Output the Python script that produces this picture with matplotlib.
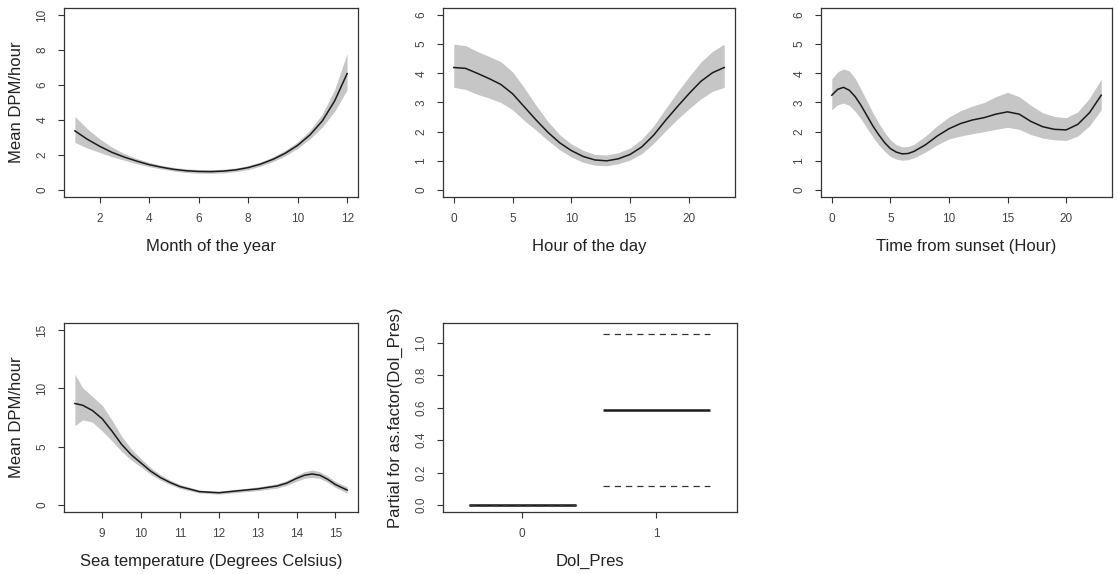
import matplotlib
matplotlib.use("Agg")
import matplotlib.pyplot as plt
import numpy as np

plt.rcParams['font.family'] = ['Liberation Sans', 'DejaVu Sans']

# ---- Panel 1: Month of the year ----
month = [1, 1.5, 2, 2.5, 3, 3.5, 4, 4.5, 5, 5.5, 6, 6.5, 7, 7.5, 8, 8.5, 9, 9.5, 10, 10.5, 11, 11.5, 12]
month_fit = [3.38, 2.9, 2.5, 2.15, 1.88, 1.65, 1.45, 1.3, 1.18, 1.1, 1.06, 1.05, 1.08, 1.15, 1.28, 1.48, 1.75, 2.1, 2.55, 3.15, 3.95, 5.1, 6.65]
month_lo = [2.72, 2.4, 2.15, 1.9, 1.7, 1.5, 1.33, 1.2, 1.08, 1.0, 0.96, 0.95, 0.98, 1.05, 1.17, 1.36, 1.62, 1.95, 2.38, 2.92, 3.6, 4.5, 5.72]
month_hi = [4.2, 3.5, 2.92, 2.45, 2.08, 1.8, 1.58, 1.41, 1.29, 1.21, 1.17, 1.16, 1.19, 1.26, 1.39, 1.6, 1.89, 2.27, 2.75, 3.4, 4.35, 5.75, 7.8]

# ---- Panel 2: Hour of the day ----
hour = list(range(24))
hour_fit = [4.20, 4.17, 4.00, 3.82, 3.62, 3.30, 2.85, 2.40, 1.98, 1.62, 1.35, 1.15, 1.03, 1.00, 1.07, 1.22, 1.48, 1.88, 2.38, 2.85, 3.30, 3.72, 4.02, 4.20]
hour_lo = [3.52, 3.45, 3.28, 3.15, 3.00, 2.75, 2.38, 2.05, 1.70, 1.38, 1.13, 0.95, 0.85, 0.83, 0.90, 1.03, 1.25, 1.60, 2.02, 2.42, 2.78, 3.12, 3.38, 3.52]
hour_hi = [5.00, 4.95, 4.75, 4.58, 4.40, 4.05, 3.50, 2.90, 2.35, 1.90, 1.58, 1.36, 1.22, 1.20, 1.28, 1.44, 1.75, 2.20, 2.78, 3.35, 3.88, 4.38, 4.75, 5.00]

# ---- Panel 3: Time from sunset ----
sunset = [0, 0.5, 1, 1.5, 2, 2.5, 3, 3.5, 4, 4.5, 5, 5.5, 6, 6.5, 7, 8, 9, 10, 11, 12, 13, 14, 15, 16, 17, 18, 19, 20, 21, 22, 23]
sunset_fit = [3.25, 3.45, 3.52, 3.42, 3.20, 2.90, 2.55, 2.20, 1.90, 1.63, 1.42, 1.30, 1.24, 1.25, 1.32, 1.55, 1.85, 2.10, 2.28, 2.40, 2.48, 2.60, 2.68, 2.60, 2.35, 2.17, 2.08, 2.06, 2.25, 2.65, 3.25]
sunset_lo = [2.75, 2.92, 2.98, 2.90, 2.70, 2.43, 2.12, 1.82, 1.55, 1.33, 1.15, 1.06, 1.02, 1.04, 1.10, 1.30, 1.55, 1.75, 1.85, 1.93, 2.00, 2.08, 2.15, 2.08, 1.90, 1.78, 1.72, 1.70, 1.85, 2.20, 2.75]
sunset_hi = [3.80, 4.05, 4.15, 4.08, 3.82, 3.45, 3.05, 2.65, 2.30, 1.98, 1.72, 1.56, 1.48, 1.49, 1.56, 1.85, 2.20, 2.50, 2.72, 2.88, 3.00, 3.20, 3.35, 3.20, 2.90, 2.65, 2.52, 2.48, 2.68, 3.15, 3.80]

# ---- Panel 4: Sea temperature ----
temp = [8.3, 8.5, 8.75, 9.0, 9.25, 9.5, 9.75, 10.0, 10.25, 10.5, 10.75, 11.0, 11.5, 12.0, 12.5, 13.0, 13.5, 13.75, 14.0, 14.2, 14.4, 14.6, 14.8, 15.0, 15.3]
temp_fit = [8.70, 8.55, 8.10, 7.40, 6.35, 5.20, 4.30, 3.60, 2.90, 2.35, 1.93, 1.58, 1.15, 1.05, 1.22, 1.38, 1.63, 1.88, 2.28, 2.55, 2.66, 2.55, 2.20, 1.75, 1.28]
temp_lo = [6.80, 7.30, 7.10, 6.35, 5.50, 4.60, 3.85, 3.25, 2.62, 2.13, 1.75, 1.42, 1.03, 0.93, 1.08, 1.23, 1.45, 1.68, 2.04, 2.28, 2.36, 2.28, 1.95, 1.50, 1.02]
temp_hi = [11.20, 10.05, 9.30, 8.55, 7.30, 5.90, 4.80, 3.98, 3.20, 2.60, 2.13, 1.76, 1.28, 1.18, 1.36, 1.55, 1.82, 2.10, 2.55, 2.85, 3.00, 2.85, 2.48, 2.02, 1.56]

# ---- Panel 5: factor Dol_Pres ----
dol_levels = [0, 1]
dol_est = [0.0, 0.585]
dol_lo = [0.0, 0.115]
dol_hi = [0.0, 1.055]

W, H = 1118, 574
fig = plt.figure(figsize=(W / 100, H / 100), dpi=100)

BAND = '#c6c6c6'
LINE = '#1a1a1a'
BOX = '#333333'
TICKC = '#444444'


def make_ax(left, top, right, bottom):
    ax = fig.add_axes([left / W, 1 - bottom / H, (right - left) / W, (bottom - top) / H])
    for s in ax.spines.values():
        s.set_color(BOX)
        s.set_linewidth(0.9)
    ax.tick_params(direction='out', length=4.2, width=0.8, color=BOX,
                   labelsize=8.5, labelcolor=TICKC, pad=7)
    return ax


def finish(ax, xlabel, ylabel=None, yticks=None, yfmt=None):
    ax.set_xlabel(xlabel, fontsize=12, color='#222222', labelpad=10.5)
    if ylabel:
        ax.set_ylabel(ylabel, fontsize=12, color='#222222', labelpad=9)
    if yticks is not None:
        ax.set_yticks(yticks)
        labels = [yfmt.format(v) if yfmt else str(v) for v in yticks]
        ax.set_yticklabels(labels, rotation=90, va='center')


def smooth_panel(ax, x, fit, lo, hi):
    ax.fill_between(x, lo, hi, color=BAND, linewidth=0)
    ax.plot(x, fit, color=LINE, linewidth=1.1)


# Panel 1
ax1 = make_ax(64, 8, 358, 197)
smooth_panel(ax1, month, month_fit, month_lo, month_hi)
ax1.set_xlim(0.56, 12.44)
ax1.set_ylim(-0.4, 10.4)
ax1.set_xticks([2, 4, 6, 8, 10, 12])
finish(ax1, 'Month of the year', 'Mean DPM/hour', [0, 2, 4, 6, 8, 10])

# Panel 2
ax2 = make_ax(443, 8, 735, 197)
smooth_panel(ax2, hour, hour_fit, hour_lo, hour_hi)
ax2.set_xlim(-0.92, 23.92)
ax2.set_ylim(-0.24, 6.24)
ax2.set_xticks([0, 5, 10, 15, 20])
finish(ax2, 'Hour of the day', None, [0, 1, 2, 3, 4, 5, 6])

# Panel 3
ax3 = make_ax(821, 8, 1112, 197)
smooth_panel(ax3, sunset, sunset_fit, sunset_lo, sunset_hi)
ax3.set_xlim(-0.92, 23.92)
ax3.set_ylim(-0.24, 6.24)
ax3.set_xticks([0, 5, 10, 15, 20])
finish(ax3, 'Time from sunset (Hour)', None, [0, 1, 2, 3, 4, 5, 6])

# Panel 4
ax4 = make_ax(64, 323, 358, 512)
smooth_panel(ax4, temp, temp_fit, temp_lo, temp_hi)
ax4.set_xlim(8.02, 15.58)
ax4.set_ylim(-0.6, 15.6)
ax4.set_xticks([9, 10, 11, 12, 13, 14, 15])
finish(ax4, 'Sea temperature (Degrees Celsius)', 'Mean DPM/hour', [0, 5, 10, 15])

# Panel 5
ax5 = make_ax(443, 323, 737, 512)
for lev, est, lo, hi in zip(dol_levels, dol_est, dol_lo, dol_hi):
    ax5.plot([lev - 0.4, lev + 0.4], [est, est], color=LINE, linewidth=1.8, solid_capstyle='butt')
    ax5.plot([lev - 0.4, lev + 0.4], [lo, lo], color='#333333', linewidth=0.9, dashes=(5, 4))
    ax5.plot([lev - 0.4, lev + 0.4], [hi, hi], color='#333333', linewidth=0.9, dashes=(5, 4))
ax5.set_xlim(-0.59, 1.6)
ax5.set_ylim(-0.043, 1.12)
ax5.set_xticks(dol_levels)
finish(ax5, 'Dol_Pres', 'Partial for as.factor(Dol_Pres)', [0.0, 0.2, 0.4, 0.6, 0.8, 1.0], '{:.1f}')

fig.savefig('out.png', dpi=100, facecolor='white')
